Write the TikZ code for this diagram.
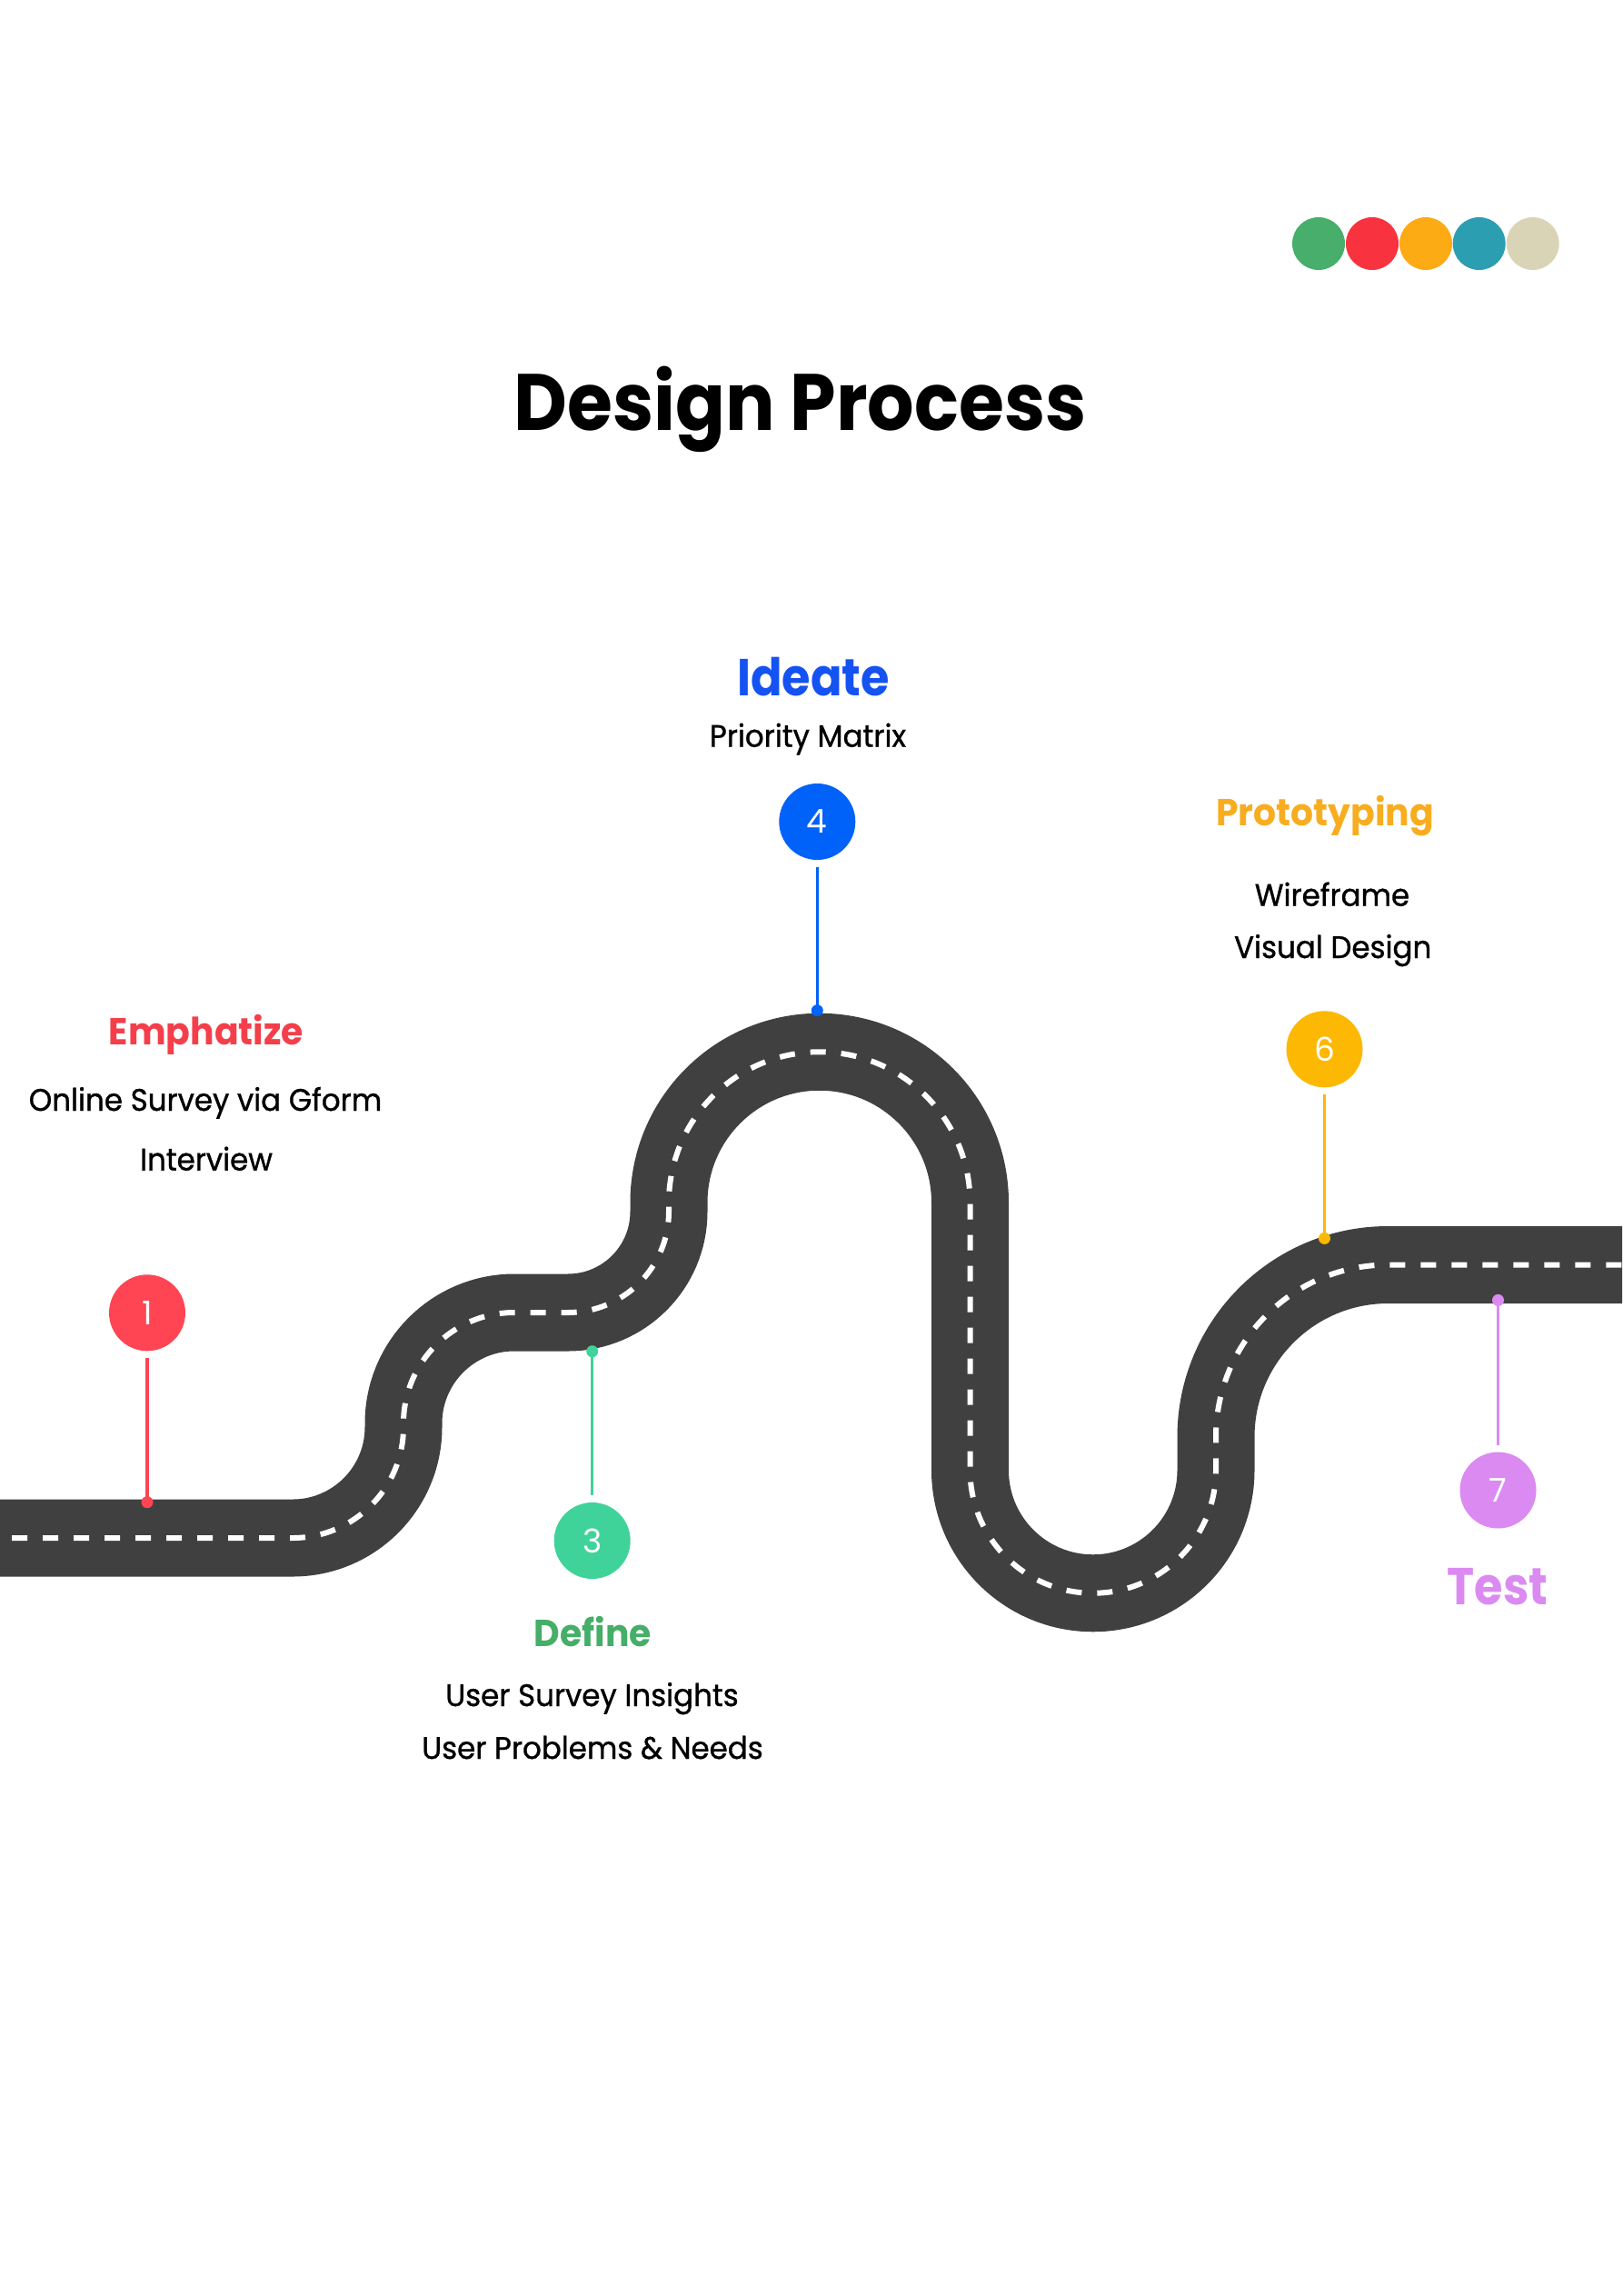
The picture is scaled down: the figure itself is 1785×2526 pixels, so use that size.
\documentclass[tikz,border=0pt]{standalone}
\usepackage{fontspec}
\setmainfont{Poppins}
\newfontfamily\fTitle{Poppins}[FakeStretch=0.92]
\newfontfamily\fHeadL{Poppins}[FakeStretch=0.89]
\newfontfamily\fHeadS{Poppins}[FakeStretch=0.95]
\newfontfamily\fBody{Poppins}[FakeStretch=0.95,FakeBold=0.9]
\definecolor{roadc}{HTML}{404040}
\definecolor{cA}{HTML}{FF4553}
\definecolor{tA}{HTML}{F43F4B}
\definecolor{cC}{HTML}{3FD39A}
\definecolor{tC}{HTML}{45AE68}
\definecolor{cD}{HTML}{0062F8}
\definecolor{tD}{HTML}{1552F2}
\definecolor{cF}{HTML}{FDB803}
\definecolor{tF}{HTML}{F8AD20}
\definecolor{cG}{HTML}{DB8AF2}
\definecolor{pA}{HTML}{47AF6B}
\definecolor{pB}{HTML}{F8333F}
\definecolor{pC}{HTML}{FCAB15}
\definecolor{pD}{HTML}{2C9EB1}
\definecolor{pE}{HTML}{DAD4B6}
\begin{document}
\begin{tikzpicture}[x=0.5pt,y=-0.5pt,
  numc/.style={circle, minimum size=42pt, inner sep=0pt, text=white, font=\fontsize{18}{18}\selectfont},
  pin/.style={circle, minimum size=6.5pt, inner sep=0pt},
  conn/.style={line width=1.75pt},
  palette/.style={circle, minimum size=29pt, inner sep=0pt},
  title/.style={anchor=base, inner sep=0pt, font=\fTitle\bfseries\fontsize{44}{44}\selectfont},
  headS/.style={anchor=base, inner sep=0pt, font=\fHeadS\bfseries\fontsize{20.7}{20.7}\selectfont},
  headL/.style={anchor=base, inner sep=0pt, font=\fHeadL\bfseries\fontsize{28.6}{28.6}\selectfont},
  body/.style={anchor=base, inner sep=0pt, font=\fBody\fontsize{17.1}{17.1}\selectfont}]
\clip (0,0) rectangle (1785,2526);
\fill[white] (0,0) rectangle (1785,2526);

% palette dots
\node[palette, fill=pA] (p1) at (1451,268) {};
\node[palette, fill=pB] (p2) at (1510,268) {};
\node[palette, fill=pC] (p3) at (1569,268) {};
\node[palette, fill=pD] (p4) at (1627.7,268) {};
\node[palette, fill=pE] (p5) at (1686.7,268) {};

% title
\node[title] (ttl) at (880.5,473.5) {Design Process};

% road
\draw[line width=42.5pt, roadc, postaction={draw=white, line width=3pt, dash pattern=on 8.5pt off 8.5pt, dash phase=0.5pt}]
  (-20,1692) -- (322,1692) arc[start angle=-90,end angle=0,radius=61pt]
  -- (444,1566) arc[start angle=180,end angle=90,radius=61pt]
  -- (625,1444) arc[start angle=-90,end angle=0,radius=55.5pt]
  -- (736,1323) arc[start angle=180,end angle=0,radius=82.875pt]
  -- (1067.5,1617.5) arc[start angle=180,end angle=360,radius=67.625pt]
  -- (1338,1581) arc[start angle=180,end angle=90,radius=94.75pt]
  -- (1810,1391.5);

% step 1
\node[numc, fill=cA] (n1) at (162,1444.3) {1};
\node[pin, fill=cA] (d1) at (162,1652.7) {};
\draw[conn, cA, shorten <=3.6pt] (n1) -- (d1.center);
\node[headS, text=tA] (h1) at (227,1149) {Emphatize};
\node[body] (b1a) at (226,1222) {Online Survey via Gform};
\node[body] (b1b) at (227,1287.6) {Interview};

% step 3
\node[numc, fill=cC] (n3) at (651.7,1695) {3};
\node[pin, fill=cC] (d3) at (651.7,1486.7) {};
\draw[conn, cC, shorten <=4pt] (n3) -- (d3.center);
\node[headS, text=tC] (h3) at (652.5,1811.7) {Define};
\node[body] (b3a) at (651.5,1877) {User Survey Insights};
\node[body] (b3b) at (652,1935) {User Problems \& Needs};

% step 4
\node[numc, fill=cD] (n4) at (899.3,904) {4};
\node[pin, fill=cD] (d4) at (899.3,1111.7) {};
\draw[conn, cD, shorten <=3.6pt] (n4) -- (d4.center);
\node[headL, text=tD] (h4) at (895,765) {Ideate};
\node[body] (b4a) at (889,821.7) {Priority Matrix};

% step 6
\node[numc, fill=cF] (n6) at (1457.5,1154.3) {6};
\node[pin, fill=cF] (d6) at (1457.5,1362.4) {};
\draw[conn, cF, shorten <=3.4pt] (n6) -- (d6.center);
\node[headS, text=tF] (h6) at (1458,908.3) {Prototyping};
\node[body] (b6a) at (1466,996.7) {Wireframe};
\node[body] (b6b) at (1466.7,1054) {Visual Design};

% step 7
\node[numc, fill=cG] (n7) at (1648.5,1639.5) {7};
\node[pin, fill=cG] (d7) at (1648.5,1430.4) {};
\draw[conn, cG, shorten <=3.5pt] (n7) -- (d7.center);
\node[headL, text=cG] (h7) at (1648,1765) {Test};
\end{tikzpicture}
\end{document}
